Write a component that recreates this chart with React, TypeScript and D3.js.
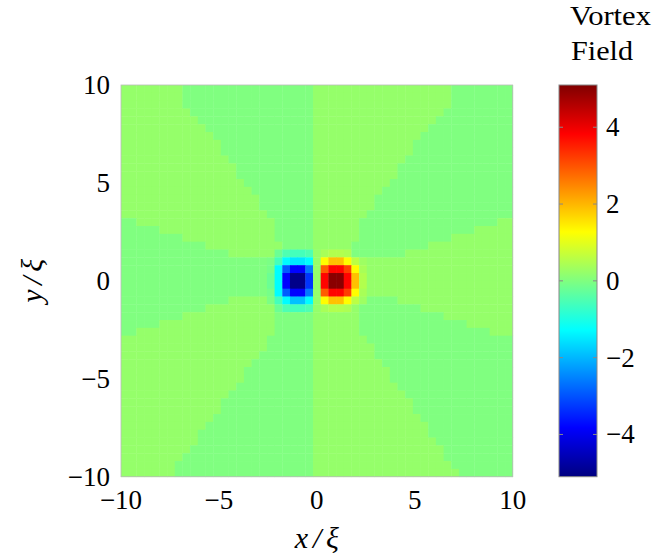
import React from 'react';
import * as d3 from 'd3';

// ---- data ----
const xTicks = [-10, -5, 0, 5, 10];
const yTicks = [-10, -5, 0, 5, 10];
const cbTicks = [-4, -2, 0, 2, 4];
const cbDomain = [-5.1, 5.1];
const nCols = 51;
const nRows = 50;
const levelA = 0.0;  // bluish-green background
const levelB = 0.22; // yellowish-green background

// background, row by row from the top: run lengths alternating B, A, B, A ... (starting with B)
const bgRuns: number[][] = [
  [8, 17, 18, 8], [8, 17, 18, 8], [8, 17, 18, 8],
  [9, 16, 17, 9], [10, 15, 16, 10], [11, 14, 15, 11], [12, 13, 14, 12],
  [13, 12, 13, 13], [13, 12, 13, 13], [14, 11, 12, 14], [15, 10, 11, 15], [15, 10, 11, 15],
  [16, 9, 10, 16], [17, 8, 9, 17], [18, 7, 8, 18], [18, 7, 8, 18], [19, 6, 7, 19],
  [0, 2, 18, 5, 6, 18, 2], [0, 5, 15, 5, 6, 15, 5], [0, 8, 12, 5, 6, 12, 8],
  [0, 11, 10, 4, 5, 10, 11], [0, 14, 7, 4, 5, 7, 14],
  [0, 25, 26], [0, 25, 26], [0, 25, 26], [0, 25, 26], [0, 25, 26],
  [0, 14, 6, 5, 6, 5, 15], [0, 11, 9, 5, 6, 8, 12], [0, 8, 12, 5, 6, 11, 9],
  [0, 5, 15, 5, 6, 14, 6], [0, 2, 18, 5, 6, 17, 3],
  [19, 6, 7, 19], [19, 6, 8, 18], [18, 7, 8, 18], [17, 8, 9, 17], [16, 9, 10, 16], [16, 9, 10, 16],
  [15, 10, 11, 15], [14, 11, 12, 14], [13, 12, 13, 13], [13, 12, 13, 13], [12, 13, 14, 12],
  [11, 14, 15, 11], [10, 15, 15, 11], [10, 15, 16, 10], [9, 16, 17, 9], [8, 17, 17, 9],
  [7, 18, 18, 8], [7, 18, 19, 7],
];

// vortex / antivortex cells (rows 21..28, columns 19..31); null = background
const blobRowStart = 21;
const blobColStart = 19;
const blobValues: (number | null)[][] = [
  [null, -0.2, -0.5, -0.6, -0.6, -0.5, null, 0.4, 0.5, 0.5, 0.45, null, null],
  [-0.05, -0.6, -1.3, -1.5, -1.5, -1.3, null, 1.3, 1.9, 1.9, 1.3, 0.6, 0.3],
  [-0.1, -1.3, -2.9, -3.8, -3.8, -2.6, null, 2.9, 3.8, 3.8, 3.2, 1.3, 0.4],
  [-0.2, -1.3, -3.8, -5.0, -5.0, -3.3, null, 3.8, 5.0, 5.0, 3.8, 1.9, 0.5],
  [-0.2, -1.3, -3.8, -5.0, -5.0, -3.3, null, 3.8, 5.0, 5.0, 3.8, 1.9, 0.5],
  [-0.1, -1.3, -2.9, -3.8, -3.8, -2.6, null, 2.9, 3.8, 3.8, 3.2, 1.3, 0.4],
  [-0.05, -0.6, -1.3, -1.9, -1.9, -1.3, null, 1.3, 1.9, 1.9, 1.3, 0.6, 0.3],
  [null, -0.2, -0.5, -0.6, -0.6, -0.5, null, 0.4, 0.5, 0.5, 0.45, null, null],
];

// ---- layout ----
const W = 656, H = 560;
const PX0 = 121, PX1 = 512.7, PY0 = 85, PY1 = 476.7;
const CBX0 = 559, CBX1 = 597;
const FONT = "'Liberation Serif', 'DejaVu Serif', serif";
const FS = 27;

const jetStops = [
  [0, '#000080'], [1 / 8, '#0000ff'], [3 / 8, '#00ffff'],
  [5 / 8, '#ffff00'], [7 / 8, '#ff0000'], [1, '#800000'],
] as [number, string][];

const fmt = (d: number) => (d < 0 ? '\u2212' + Math.abs(d) : String(d));

export default function App() {
  const t = d3.scaleLinear().domain(cbDomain).range([0, 1]).clamp(true);
  const jet = d3.scaleLinear<string>()
    .domain(jetStops.map(s => s[0]))
    .range(jetStops.map(s => s[1]))
    .interpolate(d3.interpolateRgb);
  const color = (v: number) => jet(t(v));

  const colBand = d3.scaleBand<number>().domain(d3.range(nCols)).range([PX0, PX1]);
  const rowBand = d3.scaleBand<number>().domain(d3.range(nRows)).range([PY0, PY1]);
  const x = d3.scaleLinear().domain([-10, 10]).range([PX0, PX1]);
  const y = d3.scaleLinear().domain([-10, 10]).range([PY1, PY0]);
  const cbY = d3.scaleLinear().domain(cbDomain).range([PY1, PY0]);

  const grid = new Map<string, number>();
  bgRuns.forEach((runs, r) => {
    let c = 0;
    runs.forEach((len, i) => {
      const v = i % 2 === 0 ? levelB : levelA;
      for (let k = 0; k < len; k++) grid.set(r + ',' + (c + k), v);
      c += len;
    });
  });
  blobValues.forEach((row, i) => row.forEach((v, j) => {
    if (v !== null) grid.set((blobRowStart + i) + ',' + (blobColStart + j), v);
  }));
  const finalCells = Array.from(grid.entries()).map(([k, v]) => {
    const [r, c] = k.split(',').map(Number);
    return { r, c, v };
  });

  const bw = colBand.bandwidth();
  const bh = rowBand.bandwidth();

  return (
    <svg width={W} height={H} style={{ position: 'absolute', left: 0, top: 0, background: '#fff' }}
      fontFamily={FONT}>
      <defs>
        <linearGradient id="jetGrad" x1="0" y1="1" x2="0" y2="0">
          {jetStops.map(([o, c]) => <stop key={o} offset={o} stopColor={c} />)}
        </linearGradient>
      </defs>
      <g>
        {finalCells.map(d => (
          <rect key={d.r + '-' + d.c} x={colBand(d.c)} y={rowBand(d.r)}
            width={bw + 0.4} height={bh + 0.4} fill={color(d.v)} />
        ))}
      </g>
      <rect x={PX0} y={PY0} width={PX1 - PX0} height={PY1 - PY0} fill="none" stroke="#bbb" strokeWidth={0.8} />
      {xTicks.map(d => (
        <text key={'x' + d} x={x(d)} y={509} textAnchor="middle" fontSize={FS}>{fmt(d)}</text>
      ))}
      {yTicks.map(d => (
        <text key={'y' + d} x={110} y={y(d) + 9} textAnchor="end" fontSize={FS}>{fmt(d)}</text>
      ))}
      <text x={(PX0 + PX1) / 2 - 22} y={548} fontSize={30} fontStyle="italic"
        textLength={44} lengthAdjust="spacing">x/ξ</text>
      <text transform={`translate(42, ${(PY0 + PY1) / 2 + 22}) rotate(-90)`} fontSize={30} fontStyle="italic"
        textLength={44} lengthAdjust="spacing">y/ξ</text>
      {/* colorbar */}
      <rect x={CBX0} y={PY0} width={CBX1 - CBX0} height={PY1 - PY0} fill="url(#jetGrad)" stroke="#888" strokeWidth={1} />
      {cbTicks.map(d => (
        <g key={'cb' + d}>
          <line x1={CBX0} x2={CBX0 + 4} y1={cbY(d)} y2={cbY(d)} stroke="#888" strokeWidth={1} />
          <line x1={CBX1 - 4} x2={CBX1} y1={cbY(d)} y2={cbY(d)} stroke="#888" strokeWidth={1} />
          <text x={CBX1 + 9} y={cbY(d) + 9} fontSize={FS}>{fmt(d)}</text>
        </g>
      ))}
      <text x={570} y={25} fontSize={28} textLength={81} lengthAdjust="spacingAndGlyphs">Vortex</text>
      <text x={571} y={60} fontSize={28} textLength={62} lengthAdjust="spacingAndGlyphs">Field</text>
    </svg>
  );
}
